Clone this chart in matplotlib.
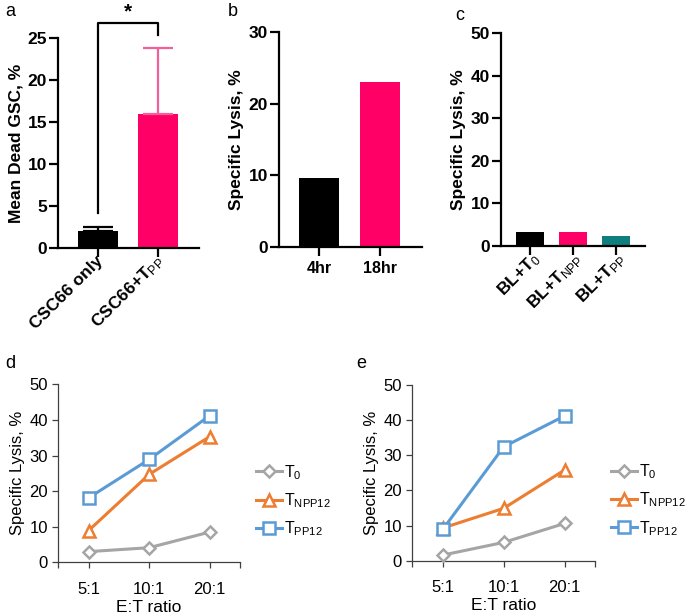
import matplotlib
matplotlib.use('Agg')
import matplotlib.pyplot as plt
import matplotlib.transforms as mtransforms

plt.rcParams['font.family'] = ['Liberation Sans', 'DejaVu Sans']
plt.rcParams['mathtext.fontset'] = 'custom'
plt.rcParams['mathtext.rm'] = 'Liberation Sans'
plt.rcParams['mathtext.it'] = 'Liberation Sans:italic'
plt.rcParams['mathtext.bf'] = 'Liberation Sans:bold'

# ---------------- data ----------------
a_categories = ['CSC66 only', r'CSC66+T$_{\mathrm{PP}}$']
a_values = [2.0, 16.0]
a_errors = [0.5, 7.8]
a_colors = ['#000000', '#FF0066']
a_err_colors = ['#000000', '#F0609A']
a_ylabel = 'Mean Dead GSC, %'
sig_label = '*'

b_categories = ['4hr', '18hr']
b_values = [9.6, 23.0]
b_colors = ['#000000', '#FF0066']

c_categories = [r'BL+T$_{\mathrm{0}}$', r'BL+T$_{\mathrm{NPP}}$', r'BL+T$_{\mathrm{PP}}$']
c_values = [3.2, 3.2, 2.3]
c_colors = ['#000000', '#FF0066', '#0E7E7E']

ratios = ['5:1', '10:1', '20:1']
series_labels = [r'T$_{\mathrm{0}}$', r'T$_{\mathrm{NPP12}}$', r'T$_{\mathrm{PP12}}$']
d_T0 = [3.0, 4.1, 8.5]
d_TNPP12 = [8.9, 24.7, 35.3]
d_TPP12 = [18.1, 28.9, 41.2]
e_T0 = [1.6, 5.2, 10.6]
e_TNPP12 = [9.3, 14.9, 25.8]
e_TPP12 = [8.9, 32.4, 41.2]

ylabel_lysis = 'Specific Lysis, %'
xlabel_ratio = 'E:T ratio'

# ---------------- figure ----------------
W, H = 685, 613
fig = plt.figure(figsize=(W / 100, H / 100), dpi=100)


def ax_px(left, top, right, bottom):
    return fig.add_axes([left / W, 1 - bottom / H, (right - left) / W, (bottom - top) / H])


def style_top(ax):
    for s in ['top', 'right']:
        ax.spines[s].set_visible(False)
    for s in ['left', 'bottom']:
        ax.spines[s].set_linewidth(1.6)
    ax.tick_params(axis='both', width=1.6, length=6.5, direction='out')
    ax.tick_params(axis='y', pad=1.5, labelsize=12.5)
    for lbl in ax.get_yticklabels():
        lbl.set_fontweight('bold')


def shift_labels(ax, dx_px):
    off = mtransforms.ScaledTranslation(dx_px / 100, 0, fig.dpi_scale_trans)
    for lbl in ax.get_xticklabels():
        lbl.set_transform(lbl.get_transform() + off)


# ---- panel a ----
axa = ax_px(58, 38, 199, 248)
xa = list(range(len(a_categories)))
axa.bar(xa, a_values, width=0.667, color=a_colors, edgecolor=a_colors, linewidth=0)
for i in xa:
    axa.errorbar(xa[i], a_values[i], yerr=[[0], [a_errors[i]]], fmt='none',
                 ecolor=a_err_colors[i], elinewidth=1.6, capsize=11, capthick=1.6)
axa.set_xlim(-0.667, 1.683)
axa.set_ylim(0, 25)
axa.set_yticks([0, 5, 10, 15, 20, 25])
axa.set_xticks(xa)
axa.set_xticklabels(a_categories, rotation=45, ha='right', va='center',
                    rotation_mode='anchor', fontweight='bold', fontsize=12.5)
axa.set_ylabel(a_ylabel, fontsize=12.5, fontweight='bold', labelpad=3)
style_top(axa)
axa.tick_params(axis='x', pad=1)
shift_labels(axa, 3)
# significance bracket
axa.plot([0, 0, 1, 1], [4.2, 26.8, 26.8, 25.4], color='black', lw=1.6, clip_on=False)
axa.text(0.5, 28.1, sig_label, ha='center', va='center', fontsize=15, fontweight='bold')
fig.text(5 / W, 1 - 12 / H, 'a', fontsize=13, va='center', ha='left')

# ---- panel b ----
axb = ax_px(279, 32.3, 421.7, 246.7)
xb = list(range(len(b_categories)))
axb.bar(xb, b_values, width=0.66, color=b_colors, linewidth=0)
axb.set_xlim(-0.664, 1.687)
axb.set_ylim(0, 30)
axb.set_yticks([0, 10, 20, 30])
axb.set_xticks(xb)
axb.set_xticklabels(b_categories, fontweight='bold', fontsize=11.5)
axb.set_ylabel(ylabel_lysis, fontsize=12.5, fontweight='bold', labelpad=3)
style_top(axb)
fig.text(228 / W, 1 - 12 / H, 'b', fontsize=13, va='center', ha='left')

# ---- panel c ----
axc = ax_px(501, 33.3, 645, 246)
xc = list(range(len(c_categories)))
axc.bar(xc, c_values, width=0.654, color=c_colors, linewidth=0)
axc.set_xlim(-0.678, 2.685)
axc.set_ylim(0, 50)
axc.set_yticks([0, 10, 20, 30, 40, 50])
axc.set_xticks(xc)
axc.set_xticklabels(c_categories, rotation=45, ha='right', va='center',
                    rotation_mode='anchor', fontweight='bold', fontsize=12.5)
axc.set_ylabel(ylabel_lysis, fontsize=12.5, fontweight='bold', labelpad=3)
style_top(axc)
axc.tick_params(axis='x', pad=1)
shift_labels(axc, 7)
fig.text(455 / W, 1 - 15 / H, 'c', fontsize=13, va='center', ha='left')

# ---- panels d, e ----
series_colors = ['#A5A5A5', '#ED7D31', '#5B9BD5']
series_markers = ['D', '^', 's']
series_msizes = [6.5, 9, 8]
spine_col = '#404040'


def line_panel(ax, series):
    xs = [1, 2, 3]
    for vals, col, mk, ms, lab in zip(series, series_colors, series_markers,
                                      series_msizes, series_labels):
        ax.plot(xs, vals, color=col, lw=2.2, marker=mk, markersize=ms,
                markerfacecolor='white', markeredgecolor=col, markeredgewidth=1.8,
                label=lab, clip_on=False, zorder=3)
    ax.set_xlim(0.5, 3.5)
    ax.set_ylim(0, 50)
    ax.set_yticks([0, 10, 20, 30, 40, 50])
    ax.set_xticks(xs)
    ax.set_xticklabels(ratios)
    ax.set_xticks([0.5, 3.5], minor=True)
    for s in ['top', 'right']:
        ax.spines[s].set_visible(False)
    for s in ['left', 'bottom']:
        ax.spines[s].set_linewidth(0.9)
        ax.spines[s].set_color(spine_col)
    ax.tick_params(axis='both', which='both', width=0.9, length=4, color=spine_col,
                   labelsize=12, direction='out')
    ax.tick_params(axis='x', pad=10)
    ax.set_ylabel(ylabel_lysis, fontsize=12, labelpad=3)
    ax.set_xlabel(xlabel_ratio, fontsize=12.5, labelpad=2)
    ax.legend(loc='center left', bbox_to_anchor=(1.09, 0.346), frameon=False,
              fontsize=11.5, handlelength=1.6, handletextpad=0.15,
              labelspacing=0.6, borderpad=0, borderaxespad=0)


axd = ax_px(58.3, 384.3, 240, 562.3)
line_panel(axd, [d_T0, d_TNPP12, d_TPP12])
fig.text(5 / W, 1 - 363 / H, 'd', fontsize=13, va='center', ha='left')

axe = ax_px(412.3, 385, 595, 560.7)
line_panel(axe, [e_T0, e_TNPP12, e_TPP12])
fig.text(356 / W, 1 - 363 / H, 'e', fontsize=13, va='center', ha='left')

fig.savefig('out.png', dpi=100)
